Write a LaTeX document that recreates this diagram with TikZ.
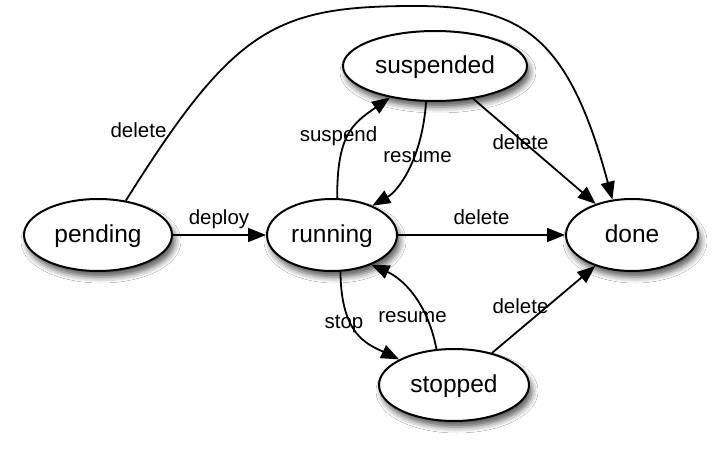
\documentclass[tikz,border=0pt]{standalone}
\usepackage{fontspec}
\setmainfont{Liberation Sans}
\usetikzlibrary{shapes.geometric,arrows.meta,shadows.blur}
\begin{document}
\begin{tikzpicture}[x=1pt,y=-1pt,
  state/.style={ellipse, draw, line width=2pt, fill=white, inner sep=0pt,
    font=\fontsize{24.5}{28}\selectfont, text height=17.6pt, text depth=1.7pt,
    blur shadow={shadow xshift=3pt, shadow yshift=-6pt, shadow blur radius=6pt, shadow opacity=65}},
  edge/.style={line width=1.8pt, -{Triangle[length=18pt,width=14pt]}},
  lbl/.style={font=\fontsize{20.5}{24}\selectfont, anchor=base, inner sep=0pt}
]
\useasboundingbox (0,0) rectangle (720,454);
\fill[white] (0,0) rectangle (720,454);

\node[state, minimum width=148pt, minimum height=72pt] (pending) at (98,235) {pending};
\node[state, minimum width=130pt, minimum height=72pt] (running) at (332,235) {running};
\node[state, minimum width=184pt, minimum height=70pt] (suspended) at (435,66) {suspended};
\node[state, minimum width=132pt, minimum height=72pt] (done) at (632,235) {done};
\node[state, minimum width=150pt, minimum height=72pt] (stopped) at (454,385) {stopped};

\draw[edge] (pending) -- (running);
\draw[edge] (pending.51) .. controls (234,28) and (275,6) .. (415,6)
            .. controls (520,6) and (568,34) .. (done.119);
\draw[edge] (running.82) .. controls (337,135) and (352,124) .. (suspended.215);
\draw[edge] (suspended.256) .. controls (422,160) and (398,191) .. (running.36);
\draw[edge] (suspended) -- (done);
\draw[edge] (running) -- (done);
\draw[edge] (running.283) .. controls (341,335) and (367,344) .. (stopped.155);
\draw[edge] (stopped.116) .. controls (427,300) and (401,278) .. (running.323);
\draw[edge] (stopped) -- (done);

\node[lbl] (l1) at (219,225) {deploy};
\node[lbl] (l2) at (138.5,138) {delete};
\node[lbl] (l3) at (338.5,142) {suspend};
\node[lbl] (l4) at (417.5,163) {resume};
\node[lbl] (l5) at (520.5,150) {delete};
\node[lbl] (l6) at (481.5,225) {delete};
\node[lbl] (l7) at (344,328) {stop};
\node[lbl] (l8) at (412.5,322) {resume};
\node[lbl] (l9) at (520.5,313) {delete};
\end{tikzpicture}
\end{document}
